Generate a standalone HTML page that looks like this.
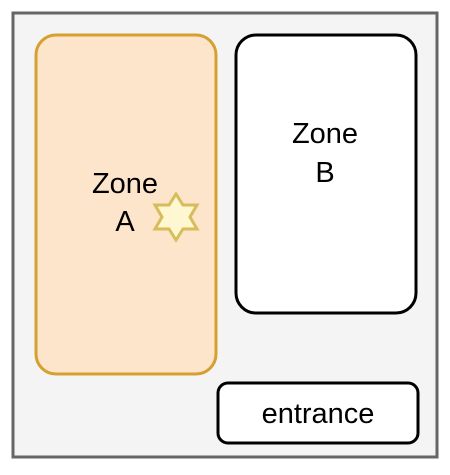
<!DOCTYPE html>
<html><head><meta charset="utf-8"><style>
body{margin:0;background:#fff;}
svg text{font-family:"Liberation Sans",sans-serif;font-size:29px;fill:#000;text-anchor:middle;}
</style></head><body>
<svg width="450" height="470" viewBox="0 0 450 470">
<rect x="13" y="13" width="424" height="444" fill="#f4f4f4" stroke="#666" stroke-width="3"/>
<g>
<rect x="36" y="35" width="180" height="339" rx="20" fill="#fde5cc" stroke="#d6a030" stroke-width="3"/>
<text x="125" y="193">Zone</text>
<text x="125" y="231">A</text>
</g>
<polygon fill="#fff6d2" stroke="#d6bc5a" stroke-width="3"
points="176,194 183,205 197,205 190,217 197,229 183,229 176,240 169,229 155,229 162,217 155,205 169,205"/>
<g>
<rect x="236" y="35" width="180" height="278" rx="20" fill="#fff" stroke="#000" stroke-width="3"/>
<text x="325" y="143">Zone</text>
<text x="325" y="182">B</text>
</g>
<g>
<rect x="218" y="383" width="200" height="60" rx="10" fill="#fff" stroke="#000" stroke-width="3"/>
<text x="318" y="423">entrance</text>
</g>
</svg>
</body></html>
